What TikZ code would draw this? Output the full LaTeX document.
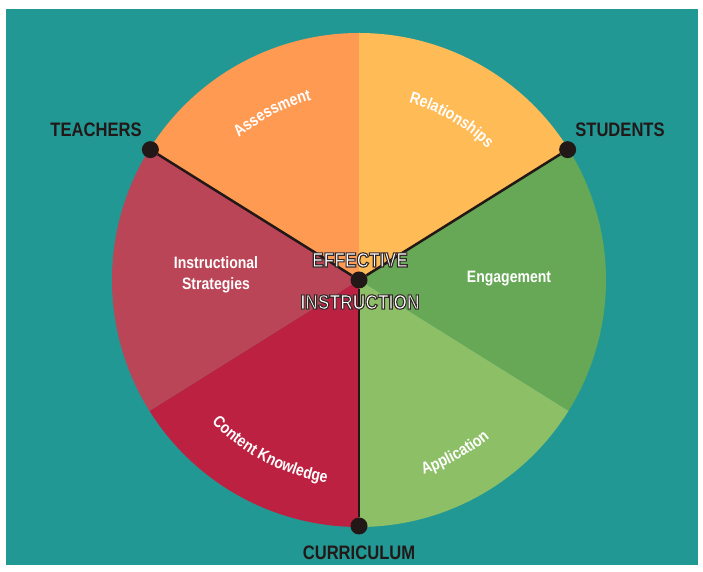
\documentclass[tikz,border=0pt]{standalone}
\usepackage{fontspec}
\usepackage{tikz}
\usetikzlibrary{decorations.text}
\newfontfamily\diagfont[FakeStretch=0.85]{Liberation Sans}
\definecolor{tealbg}{HTML}{219894}
\definecolor{assesscol}{HTML}{FF9A52}
\definecolor{relatecol}{HTML}{FFBB55}
\definecolor{engagecol}{HTML}{66A855}
\definecolor{applycol}{HTML}{8CBF66}
\definecolor{contentcol}{HTML}{BC2141}
\definecolor{instructcol}{HTML}{BA4556}
\definecolor{inkcol}{HTML}{231818}
% white letters with a dark rim
\newcommand{\rimtext}[1]{\special{pdf:literal direct 2 Tr 1.1 w 0.2 0.16 0.16 RG}#1\special{pdf:literal direct 0 Tr}}

\begin{document}
\begin{tikzpicture}[x=1pt,y=1pt,
		dot/.style={circle,fill=inkcol,inner sep=0pt,minimum size=17pt},
		who/.style={font=\diagfont\fontsize{19.5}{19.5}\selectfont\bfseries,text=inkcol},
		area/.style={font=\diagfont\fontsize{16.5}{21}\selectfont\bfseries,text=white,align=center},
		core/.style={font=\diagfont\fontsize{20.5}{20.5}\selectfont\bfseries,text=white},
		arclabel/.style={decorate,decoration={text along path,text align=center,
			text={|\diagfont\fontsize{16.5}{20}\selectfont\bfseries\color{white}|#1}}}]
		\useasboundingbox (0,0) rectangle (703,572);
		\fill[white] (0,0) rectangle (703,572);
		\fill[tealbg] (6,7) rectangle (698,563);
		\begin{scope}[shift={(359,292)}]
			% the six sectors
			\fill[assesscol] (0,0) -- (148:247pt) arc[start angle=148,end angle=90,radius=247pt] -- cycle;
			\fill[relatecol] (0,0) -- (90:247pt) arc[start angle=90,end angle=32,radius=247pt] -- cycle;
			\fill[engagecol] (0,0) -- (32:247pt) arc[start angle=32,end angle=-32,radius=247pt] -- cycle;
			\fill[applycol] (0,0) -- (-32:247pt) arc[start angle=-32,end angle=-90,radius=247pt] -- cycle;
			\fill[contentcol] (0,0) -- (-90:247pt) arc[start angle=-90,end angle=-148,radius=247pt] -- cycle;
			\fill[instructcol] (0,0) -- (-148:247pt) arc[start angle=-148,end angle=-212,radius=247pt] -- cycle;
			% curved labels
			\path[arclabel=Assessment] (150:186pt) arc[start angle=150,end angle=85,radius=186pt];
			\path[arclabel=Relationships] (95:184pt) arc[start angle=95,end angle=25,radius=184pt];
			\path[arclabel=Content Knowledge] (-150:205pt) arc[start angle=-150,end angle=-85,radius=205pt];
			\path[arclabel=Application] (-93:205pt) arc[start angle=-93,end angle=-29,radius=205pt];
			\node[dot] (centre) at (0,0) {};
			\node[dot] (teachersdot) at (148:246pt) {};
			\node[dot] (studentsdot) at (32:246pt) {};
			\node[dot] (curriculumdot) at (-90:246pt) {};
		\end{scope}
		\draw[line width=2.5pt,inkcol] (teachersdot) -- (centre);
		\draw[line width=2.5pt,inkcol] (studentsdot) -- (centre);
		\draw[line width=2.5pt,inkcol] (curriculumdot) -- (centre);
		\node[area] (instructional) at (216,297) {Instructional\\Strategies};
		\node[area] (engagement) at (509,293) {Engagement};
		\node[who] (teachers) at (96,442) {TEACHERS};
		\node[who] (students) at (620,442) {STUDENTS};
		\node[who] (curriculum) at (359,19) {CURRICULUM};
		\node[core] (effective) at (360,312) {\rimtext{EFFECTIVE}};
		\node[core] (instruction) at (360,270) {\rimtext{INSTRUCTION}};
	\end{tikzpicture}
\end{document}
